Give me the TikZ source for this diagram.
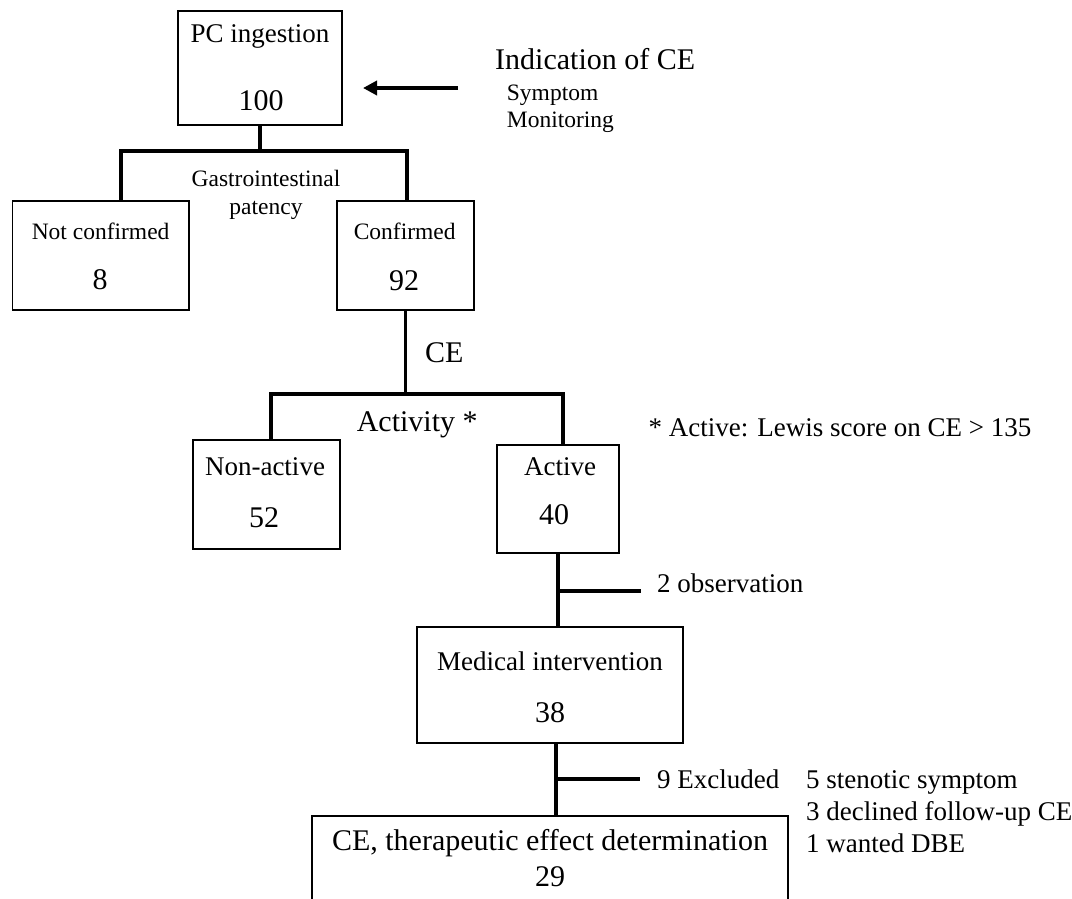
\documentclass[tikz,border=0pt]{standalone}
\usepackage{fontspec}
\setmainfont{Liberation Serif}
\usetikzlibrary{arrows.meta}
\begin{document}
\begin{tikzpicture}[x=1pt,y=-1pt,
  box/.style={draw=black,line width=1.4pt,inner sep=0pt,rectangle},
  conn/.style={line width=3.6pt},
  txs/.style={inner sep=0pt,anchor=base,font=\fontsize{23.5}{28}\selectfont},
  txm/.style={inner sep=0pt,anchor=base,font=\fontsize{27}{32}\selectfont},
  txl/.style={inner sep=0pt,anchor=base,font=\fontsize{30}{36}\selectfont},
]
\useasboundingbox (0,0) rectangle (1072,898);
\clip (0,0) rectangle (1072,898);
\fill[white] (0,0) rectangle (1072,898);

% boxes
\node[box,minimum width=164pt,minimum height=114pt] (pc) at (260,68) {};
\node[box,minimum width=176.5pt,minimum height=109pt] (nc) at (100.75,255.5) {};
\node[box,minimum width=137pt,minimum height=109pt] (cf) at (405.5,255.5) {};
\node[box,minimum width=147pt,minimum height=109pt] (na) at (266.5,494.5) {};
\node[box,minimum width=122pt,minimum height=108pt] (ac) at (558,499) {};
\node[box,minimum width=266pt,minimum height=116pt] (mi) at (550,685) {};
\node[box,minimum width=476pt,minimum height=150pt] (ce) at (550,891) {};

% texts
\node[txm] (t1) at (260,42.7) {PC ingestion};
\node[txl] (t2) at (261,110) {100};
\node[txl,anchor=base west] (ind) at (495,69.3) {Indication of CE};
\node[txs,anchor=base west] (sym) at (506.7,100) {Symptom};
\node[txs,anchor=base west] (mon) at (506.7,127) {Monitoring};
\node[txs] (gi1) at (266,186.7) {Gastrointestinal};
\node[txs] (gi2) at (266,214.5) {patency};
\node[txs] (t3) at (100.6,239) {Not confirmed};
\node[txl] (t4) at (100,289) {8};
\node[txs] (t5) at (404.7,239) {Confirmed};
\node[txl] (t6) at (404,290) {92};
\node[txl,anchor=base west] (lce) at (425,362.7) {CE};
\node[txl,anchor=base west] (act) at (356.6,431.7) {Activity *};
\node[txm,anchor=base west] (lew) at (648.5,436) {* Active: Lewis score on CE > 135};
\node[txm] (t7) at (265,475.7) {Non-active};
\node[txl] (t8) at (264,527) {52};
\node[txm] (t9) at (560,475.7) {Active};
\node[txl] (t10) at (554,524) {40};
\node[txm,anchor=base west] (obs) at (657,592) {2 observation};
\node[txm] (t11) at (550,670) {Medical intervention};
\node[txl] (t12) at (550,722.7) {38};
\node[txm,anchor=base west] (exc) at (657,788.3) {9 Excluded};
\node[txm,anchor=base west] (r1) at (806,788.3) {5 stenotic symptom};
\node[txm,anchor=base west] (r2) at (806,820) {3 declined follow-up CE};
\node[txm,anchor=base west] (r3) at (806,852.7) {1 wanted DBE};
\node[txl] (t13) at (550,850.7) {CE, therapeutic effect determination};
\node[txl] (t14) at (550,886.7) {29};

% junction coordinates
\coordinate (j1) at (260,151);
\coordinate (j1l) at (121,151);
\coordinate (j1r) at (407,151);
\coordinate (j2) at (405.5,394);
\coordinate (j2l) at (271,394);
\coordinate (j2r) at (563,394);
\coordinate (s1) at (641,591);
\coordinate (s2) at (640,779);
\coordinate (atail) at (458,88);
\coordinate (ahead) at (363,88);

% connectors
\draw[conn] (pc.south) -- (j1);
\draw[conn] (j1l |- nc.north) -- (j1l) -- (j1r) -- (j1r |- cf.north);
\draw[conn] (cf.south) -- (j2);
\draw[conn] (j2l |- na.north) -- (j2l) -- (j2r) -- (j2r |- ac.north);
\draw[conn] (ac.south) -- (ac.south |- mi.north);
\draw[conn] (ac.south |- s1) -- (s1);
\draw[conn] ([xshift=6pt]mi.south) -- ([xshift=6pt]mi.south |- ce.north);
\draw[conn] ([xshift=6pt]mi.south |- s2) -- (s2);
\draw[line width=4pt,-{Triangle[length=14pt,width=14pt]}] (atail) -- (ahead);
\end{tikzpicture}
\end{document}
